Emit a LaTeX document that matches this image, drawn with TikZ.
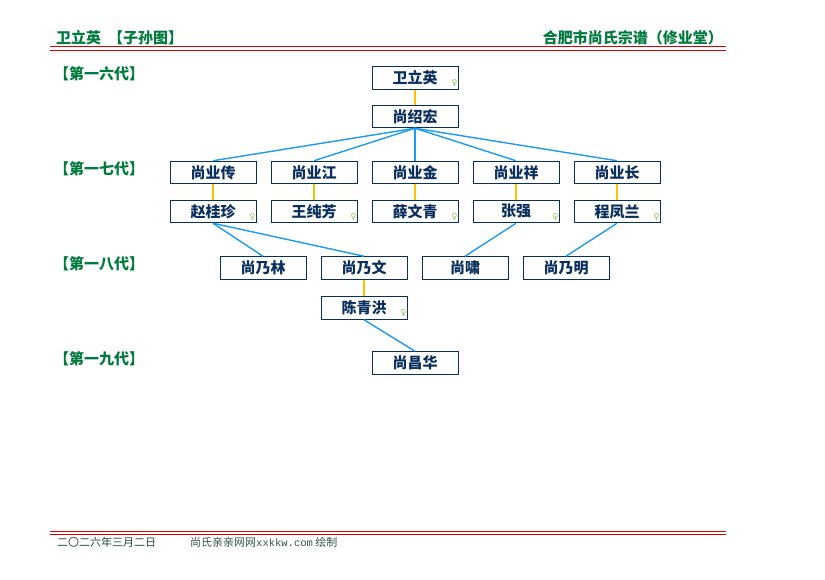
\documentclass[tikz,border=0pt]{standalone}
\usepackage{fontspec}
\newfontfamily\cjk{Noto Sans CJK SC}
\newfontfamily\sym{DejaVu Sans}
\newfontfamily\monof{Liberation Mono}
\definecolor{navy}{HTML}{0A2F5C}
\definecolor{hdrgreen}{HTML}{007A3D}
\definecolor{linkblue}{HTML}{1A9AF0}
\definecolor{spouse}{HTML}{FFC000}
\definecolor{fem}{HTML}{8CC152}
\definecolor{foot}{HTML}{1E4A3C}
\definecolor{redline}{HTML}{E00000}
\tikzset{
  person/.style={draw=navy, line width=1pt, fill=white, minimum width=86pt, minimum height=22.5pt, inner sep=0pt, text=navy, font=\cjk\bfseries\fontsize{15}{15}\selectfont},
  femmark/.style={text=fem, font=\sym\fontsize{8}{8}\selectfont, inner sep=0pt},
  desc/.style={linkblue, line width=1.4pt},
  wed/.style={spouse, line width=1.8pt},
  gen/.style={text=hdrgreen, font=\cjk\bfseries\fontsize{15}{15}\selectfont, anchor=west, inner sep=0pt},
  hdr/.style={text=hdrgreen, font=\cjk\bfseries\fontsize{15}{15}\selectfont, inner sep=0pt},
  rl/.style={redline, line width=1pt},
}
\begin{document}
\begin{tikzpicture}[x=1pt, y=-1pt]
\useasboundingbox (0,0) rectangle (825,580);
% header
\node[hdr, anchor=base west] (title) at (56,44) {卫立英\ \ 【子孙图】};
\node[hdr, anchor=base east] (clan) at (723,44) {合肥市尚氏宗谱（修业堂）};
\coordinate (hl1) at (50,47); \coordinate (hr1) at (726,47);
\coordinate (hl2) at (50,50.5); \coordinate (hr2) at (726,50.5);
\draw[rl] (hl1) -- (hr1);
\draw[rl] (hl2) -- (hr2);
% footer
\coordinate (fl1) at (50,531); \coordinate (fr1) at (726,531);
\coordinate (fl2) at (50,534); \coordinate (fr2) at (726,534);
\draw[rl] (fl1) -- (fr1);
\draw[rl] (fl2) -- (fr2);
\node[anchor=base west, inner sep=0pt, text=foot, font=\cjk\fontsize{11}{11}\selectfont] (date) at (57,546) {二〇二六年三月二日};
\node[anchor=base west, inner sep=0pt, text=foot!80!gray, font=\cjk\fontsize{11}{11}\selectfont] (site) at (190,546) {尚氏亲亲网网{\monof\fontsize{10.5}{10.5}\selectfont xxkkw.com} 绘制};
% generation labels
\node[gen] (g16) at (54,74) {【第一六代】};
\node[gen] (g17) at (54,169) {【第一七代】};
\node[gen] (g18) at (54,264) {【第一八代】};
\node[gen] (g19) at (54,359) {【第一九代】};
% people
\node[person] (wly) at (415,78) {卫立英};
\node[person] (ssh) at (415,116.5) {尚绍宏};
\node[person] (syc) at (213,172.5) {尚业传};
\node[person] (syj) at (314,172.5) {尚业江};
\node[person] (syjin) at (415,172.5) {尚业金};
\node[person] (syx) at (516,172.5) {尚业祥};
\node[person] (syz) at (617,172.5) {尚业长};
\node[person] (zgz) at (213,211.5) {赵桂珍};
\node[person] (wcf) at (314,211.5) {王纯芳};
\node[person] (xwq) at (415,211.5) {薛文青};
\node[person] (zq) at (516,211.5) {张强};
\node[person] (cfl) at (617,211.5) {程凤兰};
\node[person] (snl) at (263,268) {尚乃林};
\node[person] (snw) at (364,268) {尚乃文};
\node[person] (sx) at (465,268) {尚啸};
\node[person] (snm) at (566,268) {尚乃明};
\node[person] (cqh) at (364,308) {陈青洪};
\node[person] (sch) at (415,363) {尚昌华};
% female marks
\foreach \n in {wly,zgz,wcf,xwq,zq,cfl,cqh}{
  \node[femmark] (f\n) at ([shift={(-4,-6.5)}]\n.south east) {♀};
}
% spouse links
\draw[wed] (wly.south) -- (ssh.north);
\draw[wed] (syc.south) -- (zgz.north);
\draw[wed] (syj.south) -- (wcf.north);
\draw[wed] (syjin.south) -- (xwq.north);
\draw[wed] (syx.south) -- (zq.north);
\draw[wed] (syz.south) -- (cfl.north);
\draw[wed] (snw.south) -- (cqh.north);
% descent links
\draw[desc] (ssh.south) -- (syc.north);
\draw[desc] (ssh.south) -- (syj.north);
\draw[desc] (ssh.south) -- (syjin.north);
\draw[desc] (ssh.south) -- (syx.north);
\draw[desc] (ssh.south) -- (syz.north);
\draw[desc] (zgz.south) -- (snl.north);
\draw[desc] (zgz.south) -- (snw.north);
\draw[desc] (zq.south) -- (sx.north);
\draw[desc] (cfl.south) -- (snm.north);
\draw[desc] (cqh.south) -- (sch.north);
\end{tikzpicture}
\end{document}
